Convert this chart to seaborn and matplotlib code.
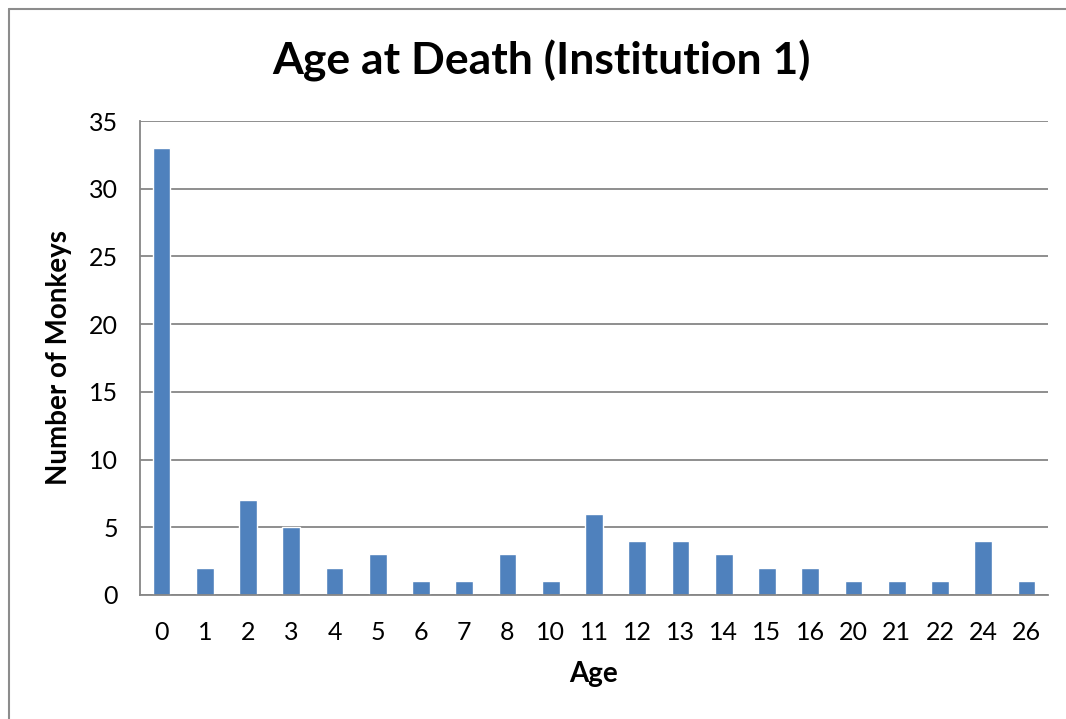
import matplotlib
matplotlib.use("Agg")
import matplotlib.pyplot as plt
import seaborn as sns
import pandas as pd
from matplotlib.lines import Line2D

ages = ["0", "1", "2", "3", "4", "5", "6", "7", "8", "10", "11",
        "12", "13", "14", "15", "16", "20", "21", "22", "24", "26"]
counts = [33, 2, 7, 5, 2, 3, 1, 1, 3, 1, 6, 4, 4, 3, 2, 2, 1, 1, 1, 4, 1]

df = pd.DataFrame({"Age": ages, "Count": counts})

sns.set_style("white")
plt.rcParams["font.family"] = ["Lato", "DejaVu Sans"]
plt.rcParams["text.color"] = "black"
plt.rcParams["xtick.labelcolor"] = "black"
plt.rcParams["ytick.labelcolor"] = "black"
plt.rcParams["axes.labelcolor"] = "black"

fig = plt.figure(figsize=(10.66, 7.19), dpi=100)
ax = fig.add_axes([0.1313, 0.1725, 0.8518, 0.6592])

sns.barplot(data=df, x="Age", y="Count", order=ages, color="#4F81BD",
            saturation=1, width=0.41, ax=ax)

grid_col = "#868686"
ax.set_ylim(0, 35)
ax.set_xlim(-0.5, len(ages) - 0.5)
ax.set_yticks(range(0, 36, 5))
ax.yaxis.grid(True, color=grid_col, linewidth=1.3)
ax.set_axisbelow(True)
for s in ["top", "right"]:
    ax.spines[s].set_visible(False)
ax.spines["left"].set_color(grid_col)
ax.spines["bottom"].set_color(grid_col)
ax.spines["left"].set_linewidth(1.3)
ax.spines["bottom"].set_linewidth(1.3)

# ticks at category boundaries, labels centred
ax.set_xticks([i - 0.5 for i in range(len(ages) + 1)], minor=False)
ax.set_xticklabels([])
ax.set_xticks(range(len(ages)), minor=True)
ax.set_xticklabels(ages, minor=True)
ax.tick_params(axis="x", which="major", length=9, width=1.3, color=grid_col, direction="out")
ax.tick_params(axis="x", which="minor", length=0, pad=19, labelsize=18)
ax.tick_params(axis="y", length=8, width=1.3, color=grid_col, direction="out", labelsize=18, pad=8)

ax.set_xlabel("Age", fontsize=20, fontweight="bold", labelpad=12)
ax.set_ylabel("Number of Monkeys", fontsize=20, fontweight="bold", labelpad=12)
fig.suptitle("Age at Death (Institution 1)", fontsize=32, fontweight="bold", x=0.508, y=0.945)

# outer chart border (top and left visible)
fig.add_artist(Line2D([9 / 1066, 9 / 1066], [0, 1 - 9 / 719], transform=fig.transFigure,
                      color="#8c8c8c", linewidth=1.5))
fig.add_artist(Line2D([9 / 1066, 1], [1 - 9 / 719, 1 - 9 / 719], transform=fig.transFigure,
                      color="#8c8c8c", linewidth=1.5))

fig.savefig("out.png", dpi=100)
